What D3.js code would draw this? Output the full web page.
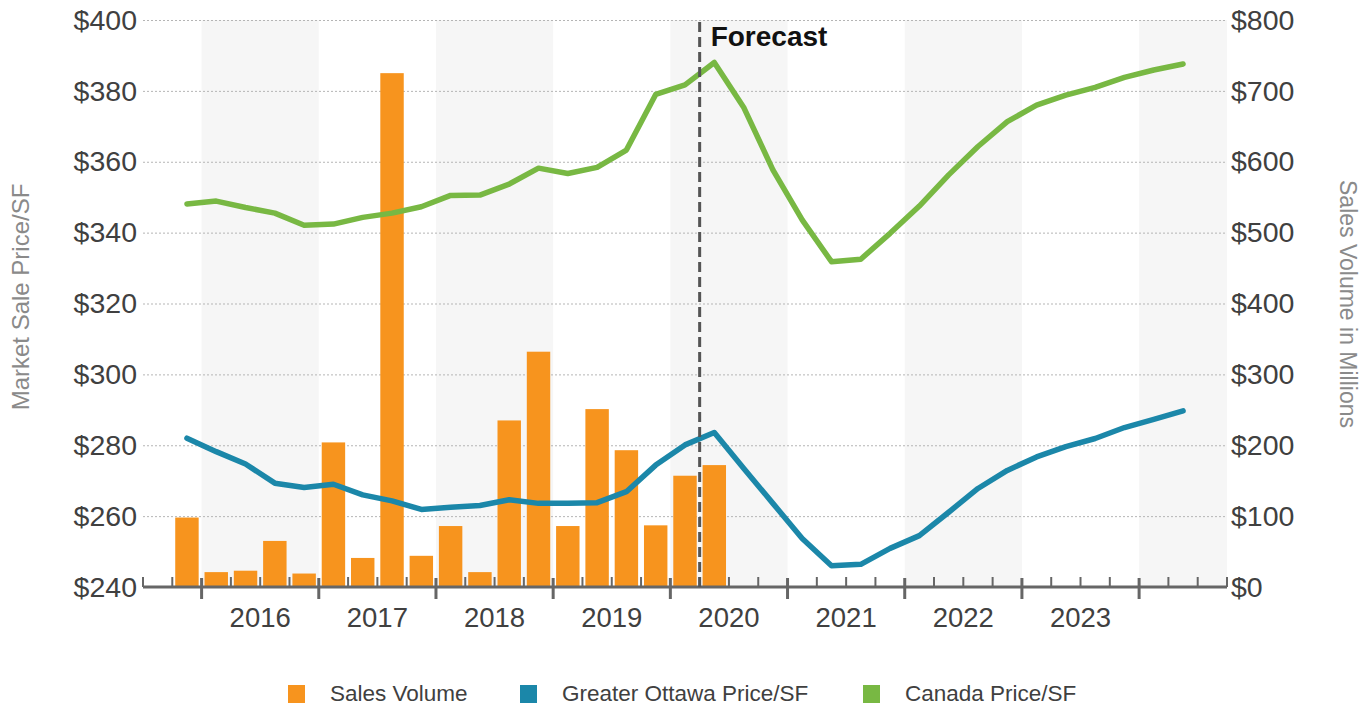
<!DOCTYPE html>
<html lang="en">
<head>
<meta charset="UTF-8">
<style>
  body { margin: 0; background: #fff; }
  svg { font-family: "Liberation Sans", Arial, sans-serif; }
</style>
<script src="https://d3js.org/d3.v7.min.js"></script>
</head>
<body>
<svg id="chart" width="1372" height="709"></svg>
<script>
// quarters on the axis: 2015 Q3 .. 2024 Q3
const years = [2015, 2016, 2017, 2018, 2019, 2020, 2021, 2022, 2023, 2024];
const quarters = [];
years.forEach(y => [1, 2, 3, 4].forEach(q => quarters.push(y + "Q" + q)));
const axisQuarters = quarters.slice(2, 39); // 2015Q3 .. 2024Q3

const yearLabels = ["2016", "2017", "2018", "2019", "2020", "2021", "2022", "2023"];
const leftTicks = [240, 260, 280, 300, 320, 340, 360, 380, 400];
const rightTicks = [0, 100, 200, 300, 400, 500, 600, 700, 800];

// sales volume ($M), 2015Q4 .. 2020Q2
const salesQuarters = quarters.slice(3, 22);
const salesVolume = [98, 21, 23, 65, 19, 204, 41, 725, 44, 86, 21, 235, 332, 86, 251, 193, 87, 157, 172];

// price per SF, 2015Q4 .. 2024Q2
const priceQuarters = quarters.slice(3, 38);
const ottawaPrice = [282.0, 278.2, 274.7, 269.3, 268.1, 269.0, 266.0, 264.3, 261.9, 262.5,
  263.0, 264.6, 263.6, 263.6, 263.8, 266.9, 274.4, 280.1, 283.6, 273.5,
  263.6, 253.7, 246.0, 246.4, 250.9, 254.5, 261.1, 267.8, 272.9, 276.7,
  279.6, 281.9, 285.0, 287.3, 289.7];
const canadaPrice = [348.1, 348.9, 347.1, 345.5, 342.1, 342.4, 344.3, 345.5, 347.3, 350.5,
  350.6, 353.7, 358.2, 356.7, 358.4, 363.3, 379.0, 381.7, 388.0, 375.4,
  357.7, 343.6, 331.8, 332.5, 339.8, 347.5, 356.3, 364.3, 371.3, 376.0,
  378.8, 381.0, 383.8, 385.9, 387.6];
const forecastStart = "2020Q2";

const colors = { sales: "#f7941e", ottawa: "#1b87a9", canada: "#78b843" };
const textColor = "#404040";

const svg = d3.select("#chart");
const plotLeft = 143, plotRight = 1227, plotTop = 20, plotBottom = 587;

const x = d3.scaleBand().domain(axisQuarters).range([plotLeft, plotRight]);
const bw = x.bandwidth();
const yL = d3.scaleLinear().domain([240, 400]).range([plotBottom, plotTop]);
const yR = d3.scaleLinear().domain([0, 800]).range([plotBottom, plotTop]);

// alternating year bands
years.forEach(yr => {
  const qs = axisQuarters.filter(q => q.startsWith(yr));
  if (!qs.length || (yr - 2016) % 2 !== 0) return;
  svg.append("rect")
    .attr("x", x(qs[0]))
    .attr("y", plotTop)
    .attr("width", bw * qs.length)
    .attr("height", plotBottom - plotTop)
    .attr("fill", "#f6f6f6");
});

// gridlines
svg.append("g")
  .attr("transform", `translate(${plotLeft},0)`)
  .call(d3.axisLeft(yL).tickValues(leftTicks).tickSize(-(plotRight - plotLeft)).tickFormat(""))
  .call(g => g.select(".domain").remove())
  .call(g => g.selectAll("line")
    .attr("stroke", "#b5b5b5")
    .attr("stroke-width", 1)
    .attr("stroke-dasharray", "2,2"));

// bars
svg.append("g").selectAll("rect")
  .data(salesVolume)
  .join("rect")
  .attr("x", (d, i) => x(salesQuarters[i]) + bw * 0.1)
  .attr("width", bw * 0.8)
  .attr("y", d => yR(d))
  .attr("height", d => yR(0) - yR(d))
  .attr("fill", colors.sales);

// x axis
const axisG = svg.append("g").attr("stroke", "#666");
axisG.append("line")
  .attr("x1", plotLeft).attr("x2", plotRight)
  .attr("y1", plotBottom).attr("y2", plotBottom)
  .attr("stroke-width", 3);
const bounds = axisQuarters.map(q => x(q)).concat([plotRight]);
const isMajor = i => (axisQuarters[i] || "").endsWith("Q1");
axisG.selectAll("line.tick")
  .data(bounds)
  .join("line")
  .attr("class", "tick")
  .attr("x1", d => d).attr("x2", d => d)
  .attr("y1", (d, i) => isMajor(i) ? plotBottom - 9 : plotBottom - 10)
  .attr("y2", (d, i) => isMajor(i) ? plotBottom + 12 : plotBottom)
  .attr("stroke-width", (d, i) => isMajor(i) ? 3 : 2);

svg.append("g").selectAll("text")
  .data(yearLabels)
  .join("text")
  .attr("x", d => x(d + "Q1") + bw * 2)
  .attr("y", 627)
  .attr("text-anchor", "middle")
  .attr("font-size", 27.5)
  .attr("fill", textColor)
  .text(d => d);

// y axes
svg.append("g")
  .attr("transform", `translate(${plotLeft},0)`)
  .call(d3.axisLeft(yL).tickValues(leftTicks).tickSize(0).tickPadding(6).tickFormat(d => "$" + d))
  .call(g => g.select(".domain").remove())
  .call(g => g.selectAll("text").attr("font-size", 28.5).attr("fill", textColor)
    .attr("font-family", "Liberation Sans, Arial, sans-serif"));

svg.append("g")
  .attr("transform", `translate(${plotRight},0)`)
  .call(d3.axisRight(yR).tickValues(rightTicks).tickSize(0).tickPadding(4).tickFormat(d => "$" + d))
  .call(g => g.select(".domain").remove())
  .call(g => g.selectAll("text").attr("font-size", 28.5).attr("fill", textColor)
    .attr("font-family", "Liberation Sans, Arial, sans-serif"));

svg.append("text")
  .attr("transform", "translate(29,297) rotate(-90)")
  .attr("text-anchor", "middle")
  .attr("font-size", 24)
  .attr("fill", "#8a8a8a")
  .text("Market Sale Price/SF");

svg.append("text")
  .attr("transform", "translate(1340,304) rotate(90)")
  .attr("text-anchor", "middle")
  .attr("font-size", 23)
  .attr("fill", "#8a8a8a")
  .text("Sales Volume in Millions");

// price lines
const line = d3.line()
  .x((d, i) => x(priceQuarters[i]) + bw / 2)
  .y(d => yL(d));

[[canadaPrice, colors.canada], [ottawaPrice, colors.ottawa]].forEach(([vals, c]) => {
  svg.append("path")
    .datum(vals)
    .attr("d", line)
    .attr("fill", "none")
    .attr("stroke", c)
    .attr("stroke-width", 5.5)
    .attr("stroke-linejoin", "round")
    .attr("stroke-linecap", "round");
});

// forecast marker
const fx = x(forecastStart);
svg.append("line")
  .attr("x1", fx).attr("x2", fx)
  .attr("y1", plotTop + 2).attr("y2", plotBottom)
  .attr("stroke", "#555")
  .attr("stroke-width", 3)
  .attr("stroke-dasharray", "10,5");
svg.append("text")
  .attr("x", fx + 11)
  .attr("y", 46)
  .attr("font-size", 28)
  .attr("font-weight", "bold")
  .attr("fill", "#111")
  .text("Forecast");

// legend
const legendItems = [
  { label: "Sales Volume", color: colors.sales, x: 288 },
  { label: "Greater Ottawa Price/SF", color: colors.ottawa, x: 520 },
  { label: "Canada Price/SF", color: colors.canada, x: 863 }
];
const lg = svg.append("g").selectAll("g")
  .data(legendItems)
  .join("g")
  .attr("transform", d => `translate(${d.x},685)`);
lg.append("rect").attr("width", 17).attr("height", 18).attr("fill", d => d.color);
lg.append("text")
  .attr("x", 42)
  .attr("y", 16)
  .attr("font-size", 22.5)
  .attr("fill", textColor)
  .text(d => d.label);
</script>
</body>
</html>
